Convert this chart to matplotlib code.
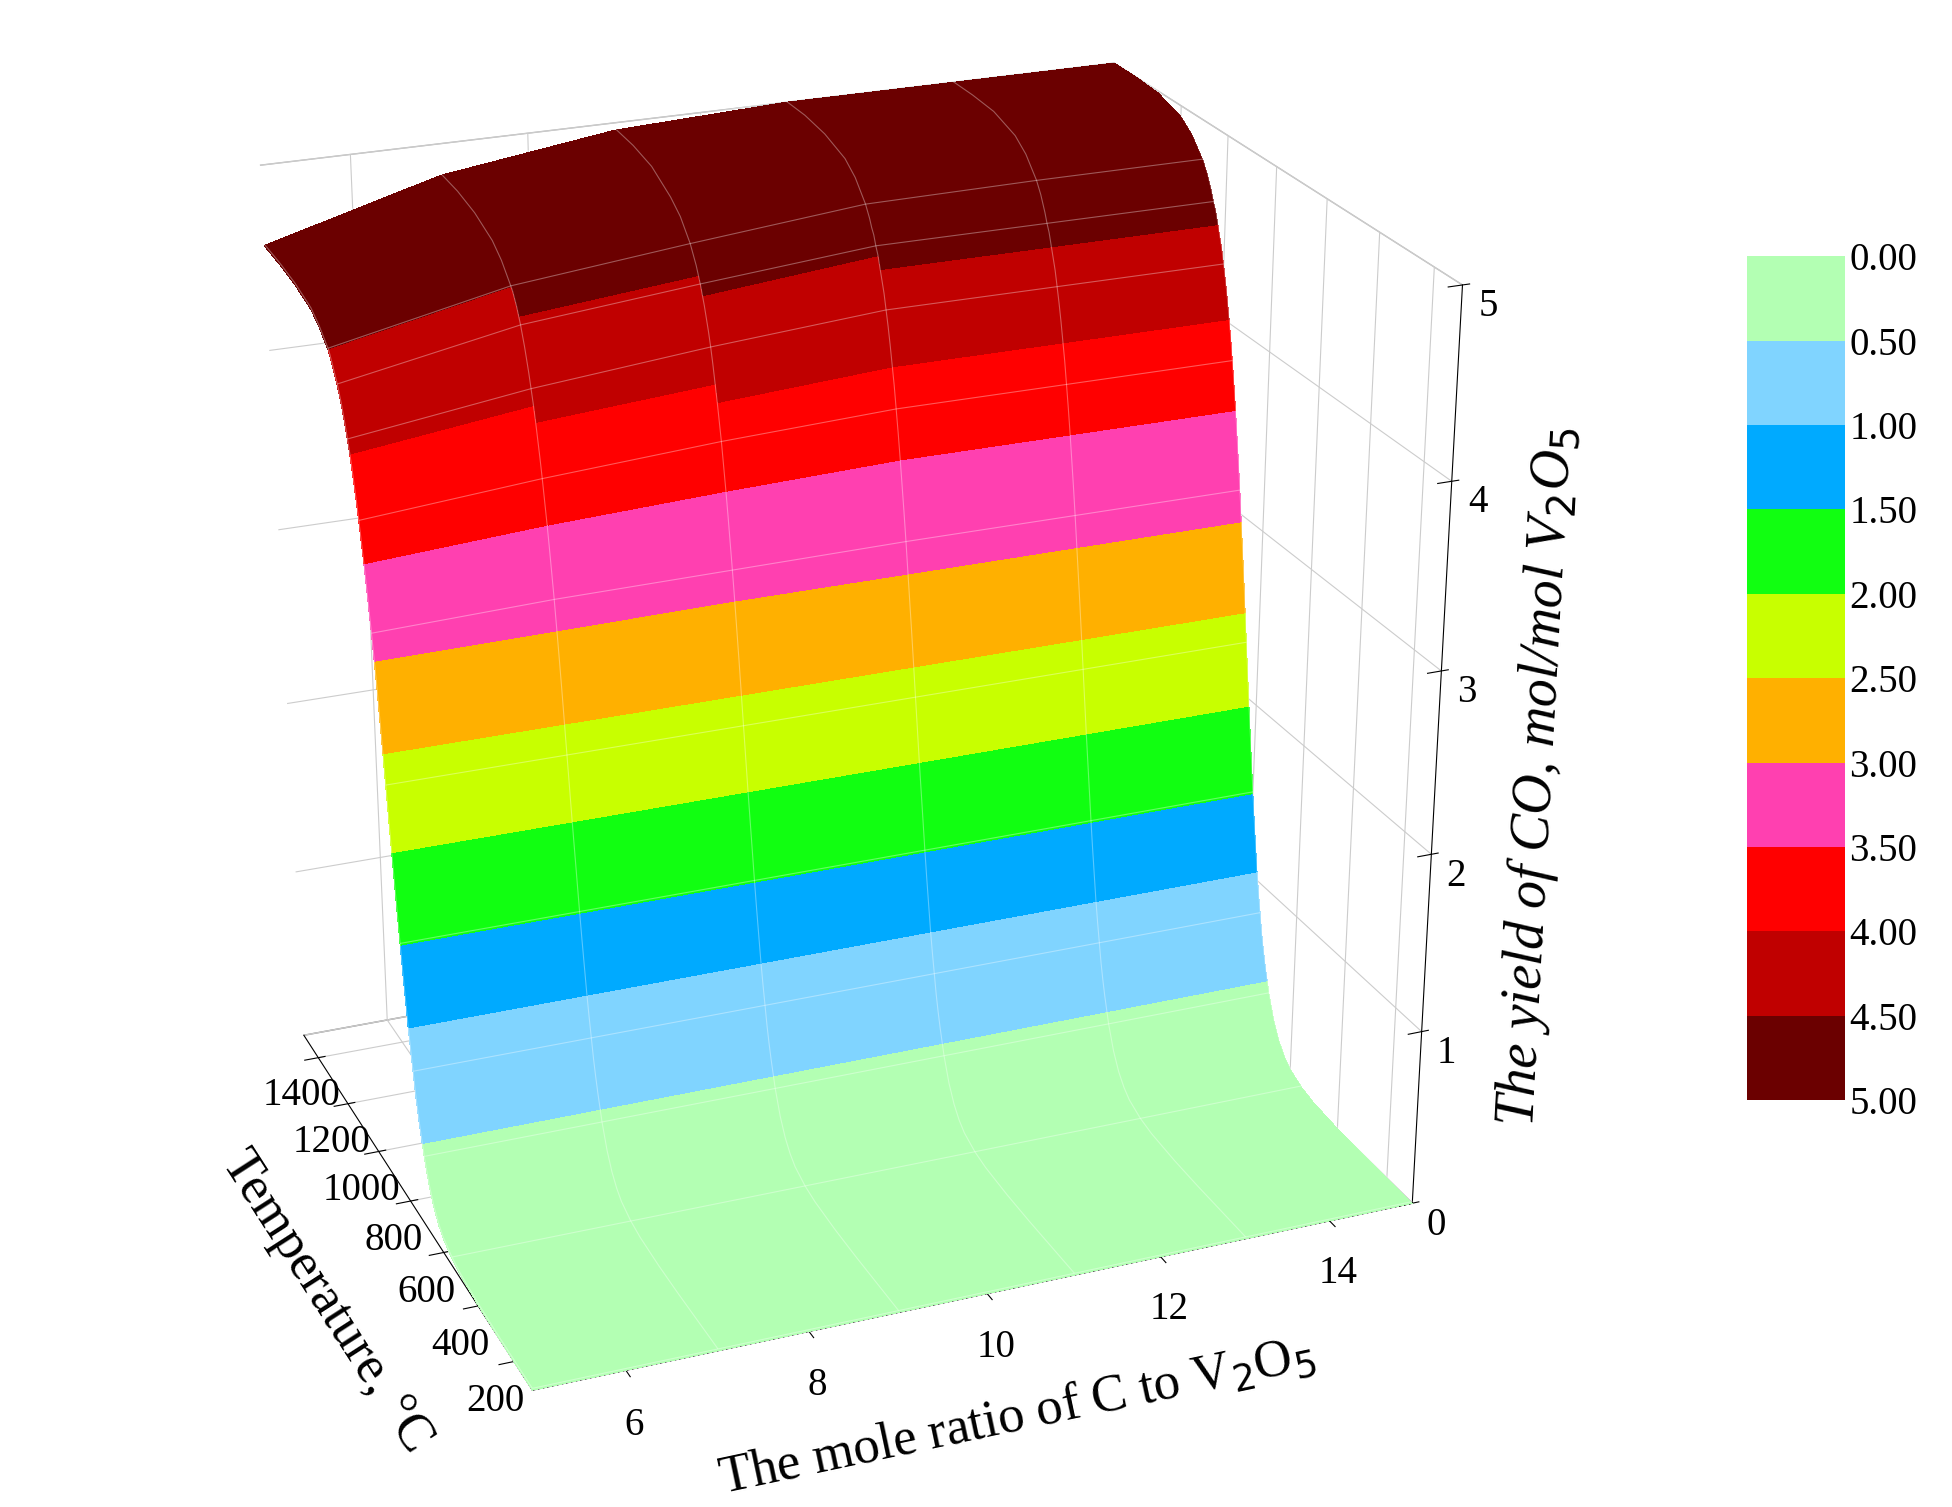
import numpy as np
import matplotlib
matplotlib.use("Agg")
import matplotlib.pyplot as plt
from matplotlib.colors import ListedColormap, BoundaryNorm

plt.rcParams['font.family'] = ['Liberation Serif', 'DejaVu Serif']

ratios = [5, 7, 9, 11, 13, 15]
temps_low = [100, 200, 300, 400, 500, 550, 600, 625, 650, 675, 700, 710, 720, 730, 740, 750, 760, 770,
             780, 790, 800, 810, 820, 830, 840, 850, 860, 870, 880]
yield_low = [0, 0, 0, 0.005, 0.02, 0.04, 0.08, 0.12, 0.18, 0.27, 0.40, 0.47, 0.54, 0.62, 0.71, 0.82, 0.93,
             1.05, 1.19, 1.33, 1.48, 1.64, 1.80, 1.96, 2.13, 2.30, 2.47, 2.64, 2.80]
temps_high = [890, 900, 910, 920, 930, 940, 950, 960, 970, 980, 990, 1000, 1010, 1020, 1030, 1040, 1050,
              1060, 1070, 1080, 1090, 1100, 1150, 1200, 1300, 1400, 1500]
yield_high_r5 = [2.94, 3.07, 3.19, 3.31, 3.42, 3.52, 3.62, 3.71, 3.79, 3.87, 3.94, 4.00, 4.06, 4.11, 4.16,
                 4.20, 4.24, 4.27, 4.30, 4.33, 4.36, 4.38, 4.45, 4.50, 4.54, 4.56, 4.57]
yield_high_r7 = [2.95, 3.10, 3.23, 3.36, 3.48, 3.59, 3.70, 3.80, 3.89, 3.98, 4.06, 4.13, 4.20, 4.26, 4.32,
                 4.37, 4.42, 4.46, 4.50, 4.53, 4.56, 4.58, 4.67, 4.73, 4.79, 4.82, 4.83]
yield_high_r9 = [2.96, 3.11, 3.25, 3.39, 3.52, 3.64, 3.76, 3.86, 3.96, 4.05, 4.14, 4.22, 4.29, 4.35, 4.41,
                 4.46, 4.51, 4.55, 4.59, 4.62, 4.65, 4.68, 4.78, 4.84, 4.92, 4.95, 4.96]
yield_high_r11 = [2.96, 3.12, 3.27, 3.41, 3.55, 3.68, 3.80, 3.92, 4.02, 4.12, 4.21, 4.29, 4.37, 4.43, 4.49,
                  4.55, 4.59, 4.64, 4.67, 4.71, 4.74, 4.77, 4.87, 4.93, 4.98, 5.00, 5.00]
yield_high_r13 = [2.96, 3.12, 3.27, 3.41, 3.55, 3.68, 3.80, 3.92, 4.02, 4.12, 4.21, 4.29, 4.37, 4.43, 4.49,
                  4.55, 4.59, 4.64, 4.68, 4.72, 4.75, 4.78, 4.88, 4.94, 4.99, 5.00, 5.00]
yield_high_r15 = [2.96, 3.12, 3.27, 3.41, 3.55, 3.68, 3.80, 3.92, 4.02, 4.12, 4.21, 4.29, 4.37, 4.43, 4.49,
                  4.55, 4.59, 4.64, 4.68, 4.72, 4.75, 4.78, 4.88, 4.94, 4.99, 5.00, 5.00]
levels = [0.0, 0.5, 1.0, 1.5, 2.0, 2.5, 3.0, 3.5, 4.0, 4.5, 5.0]
level_colors = ['#B3FFB3', '#80D4FF', '#00AAFF', '#11FF11', '#C8FF00',
                '#FFB000', '#FF40B0', '#FF0000', '#C00000', '#6B0000']

cmap = ListedColormap(level_colors)
norm = BoundaryNorm(levels, cmap.N)

temperatures = temps_low + temps_high
cols = [yield_low + h for h in (yield_high_r5, yield_high_r7, yield_high_r9,
                                yield_high_r11, yield_high_r13, yield_high_r15)]
R, T = np.meshgrid(ratios, temperatures)
Z = np.column_stack(cols)

fig = plt.figure(figsize=(19.52, 15.07), dpi=100)
ax = fig.add_axes([-0.05, 0.03, 0.94, 1.0], projection='3d', proj_type='persp', focal_length=0.6)
ax.plot_surface(R, T, Z, cmap=cmap, norm=norm, linewidth=0, rstride=1, cstride=1,
                antialiased=False, shade=False)
ax.plot_wireframe(R, T, Z + 0.01, rstride=5, cstride=1, color=(1, 1, 1, 0.35), linewidth=0.8)
ax.set_xlim(5, 15)
ax.set_ylim(100, 1500)
ax.set_zlim(0, 5)
ax.set_xticks([6, 8, 10, 12, 14])
ax.set_yticks([200, 400, 600, 800, 1000, 1200, 1400])
ax.set_zticks([0, 1, 2, 3, 4, 5])
ax.set_box_aspect((1.1, 0.9, 1.15))
ax.view_init(elev=24, azim=-112)
ax.zaxis._axinfo['juggled'] = (1, 2, 0)
for a in (ax.xaxis, ax.yaxis, ax.zaxis):
    a.pane.fill = False
    a.pane.set_edgecolor('#777777')
    a._axinfo['grid']['color'] = '#cccccc'
    a._axinfo['grid']['linewidth'] = 0.8
ax.tick_params(labelsize=28)
ax.tick_params(axis='x', pad=8)
ax.set_xlabel('The mole ratio of C to V$_2$O$_5$', fontsize=38, labelpad=35)
ax.set_ylabel('Temperature, °C', fontsize=38, labelpad=35)
ax.set_zlabel('The yield of CO, mol/mol V$_2$O$_5$', fontsize=40, style='italic', labelpad=25)

cax = fig.add_axes([0.895, 0.27, 0.05, 0.56])
cb = fig.colorbar(plt.cm.ScalarMappable(norm=norm, cmap=cmap), cax=cax, ticks=levels)
cb.ax.invert_yaxis()
cb.ax.set_yticklabels(['%.2f' % v for v in levels])
cb.ax.tick_params(labelsize=28, length=0)
cb.outline.set_visible(False)

fig.savefig('out.png', dpi=100)
